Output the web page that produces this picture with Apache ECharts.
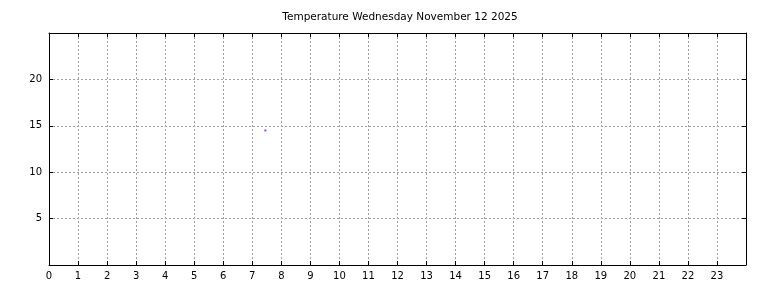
<!DOCTYPE html>
<html><head><meta charset="utf-8">
<script src="https://cdn.jsdelivr.net/npm/echarts@6/dist/echarts.min.js"></script>
<style>html,body{margin:0;padding:0;background:#fff}#c{width:768px;height:288px}</style>
</head><body><div id="c"></div>
<script>
var titleText = 'Temperature Wednesday November 12 2025';
var hourTicks = [0,1,2,3,4,5,6,7,8,9,10,11,12,13,14,15,16,17,18,19,20,21,22,23];
var tempTicks = [5,10,15,20];
var pointHours = [7.45];
var pointTemps = [14.5];

var chart = echarts.init(document.getElementById('c'), null, {renderer:'canvas'});
var font = 'DejaVu Sans';
var axisLine = {show:true, onZero:false, lineStyle:{color:'#000', width:1}};
var tick = {show:true, inside:true, length:4, lineStyle:{color:'#000', width:1}};
var grid = {show:true, lineStyle:{color:'#a0a0a0', type:[2,2], width:1}};
chart.setOption({
  animation:false,
  backgroundColor:'#fff',
  title:{text:titleText, left:395, top:7, textAlign:'center',
    textStyle:{fontFamily:font, fontSize:10.5, fontWeight:'normal', color:'#000'}},
  grid:{left:49, top:33, right:22, bottom:23, containLabel:false},
  xAxis:[
    {type:'value', position:'bottom', min:0, max:24, interval:1,
     axisLine:axisLine, axisTick:tick, splitLine:grid,
     axisLabel:{fontFamily:font, fontSize:10, color:'#000', margin:6,
       formatter:function(v){return hourTicks.indexOf(v)>=0 ? String(v) : '';}}},
    {type:'value', position:'top', min:0, max:24, interval:1,
     axisLine:axisLine, axisTick:tick, splitLine:{show:false}, axisLabel:{show:false}}
  ],
  yAxis:[
    {type:'value', position:'left', min:0, max:25, interval:5,
     axisLine:axisLine, axisTick:tick, splitLine:grid,
     axisLabel:{fontFamily:font, fontSize:10, color:'#000', margin:7,
       formatter:function(v){return tempTicks.indexOf(v)>=0 ? String(v) : '';}}},
    {type:'value', position:'right', min:0, max:25, interval:5,
     axisLine:axisLine, axisTick:tick, splitLine:{show:false}, axisLabel:{show:false}}
  ],
  series:[{
    type:'scatter', xAxisIndex:0, yAxisIndex:0,
    symbol:'rect', symbolSize:2,
    itemStyle:{color:'#9900ff'},
    data: pointHours.map(function(h,i){return [h, pointTemps[i]];})
  }]
});
</script></body></html>
